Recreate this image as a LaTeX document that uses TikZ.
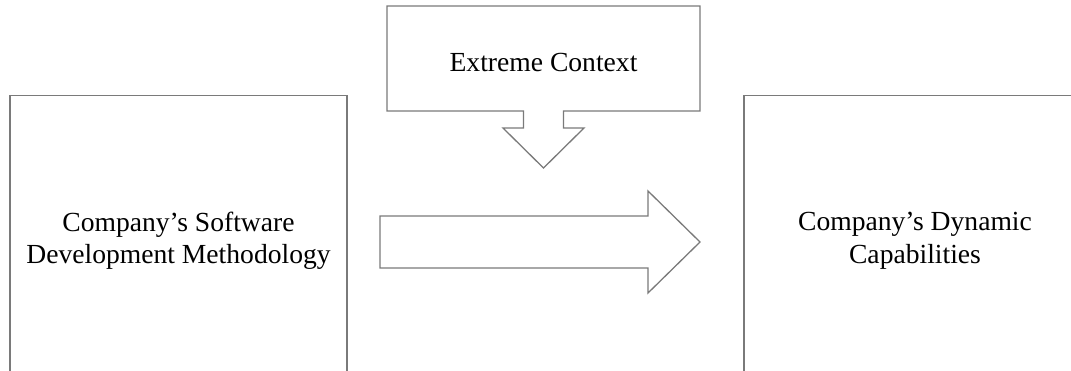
\documentclass[tikz,border=0pt]{standalone}
\usepackage{fontspec}
\setmainfont{Liberation Serif}
\definecolor{edge}{RGB}{122,122,122}
\begin{document}
\begin{tikzpicture}[x=1pt,y=-1pt,
  box/.style={draw=edge,line width=1.3pt,fill=white,inner sep=0pt,align=center,
    font=\fontsize{27.6}{32.5}\selectfont},
  shapeline/.style={draw=edge,line width=1.3pt,line join=miter,fill=white},
  lbl/.style={inner sep=0pt,font=\fontsize{27.6}{32.5}\selectfont}]
\useasboundingbox (0,0) rectangle (1071,370);
\clip (0,0) rectangle (1071,370);
% left box
\node[box,minimum width=337pt,minimum height=290pt] (sdm) at (178.5,240.7)
  {Company’s Software\\Development Methodology};
% right box (runs past the right and bottom edges)
\node[box,minimum width=342pt,minimum height=290pt] (dc) at (915,240.7)
  {Company’s Dynamic\\Capabilities};
% callout with down arrow
\path[shapeline] (387,6) -- (700,6) -- (700,111) -- (563.5,111) -- (563.5,128)
  -- (584,128) -- (543.5,168) -- (503,128) -- (523.5,128) -- (523.5,111)
  -- (387,111) -- cycle;
\node[lbl,anchor=base] (ec) at (543.5,71) {Extreme Context};
% big right arrow
\path[shapeline] (380,216) -- (648,216) -- (648,191) -- (700,242) -- (648,293)
  -- (648,268) -- (380,268) -- cycle;
\end{tikzpicture}
\end{document}
